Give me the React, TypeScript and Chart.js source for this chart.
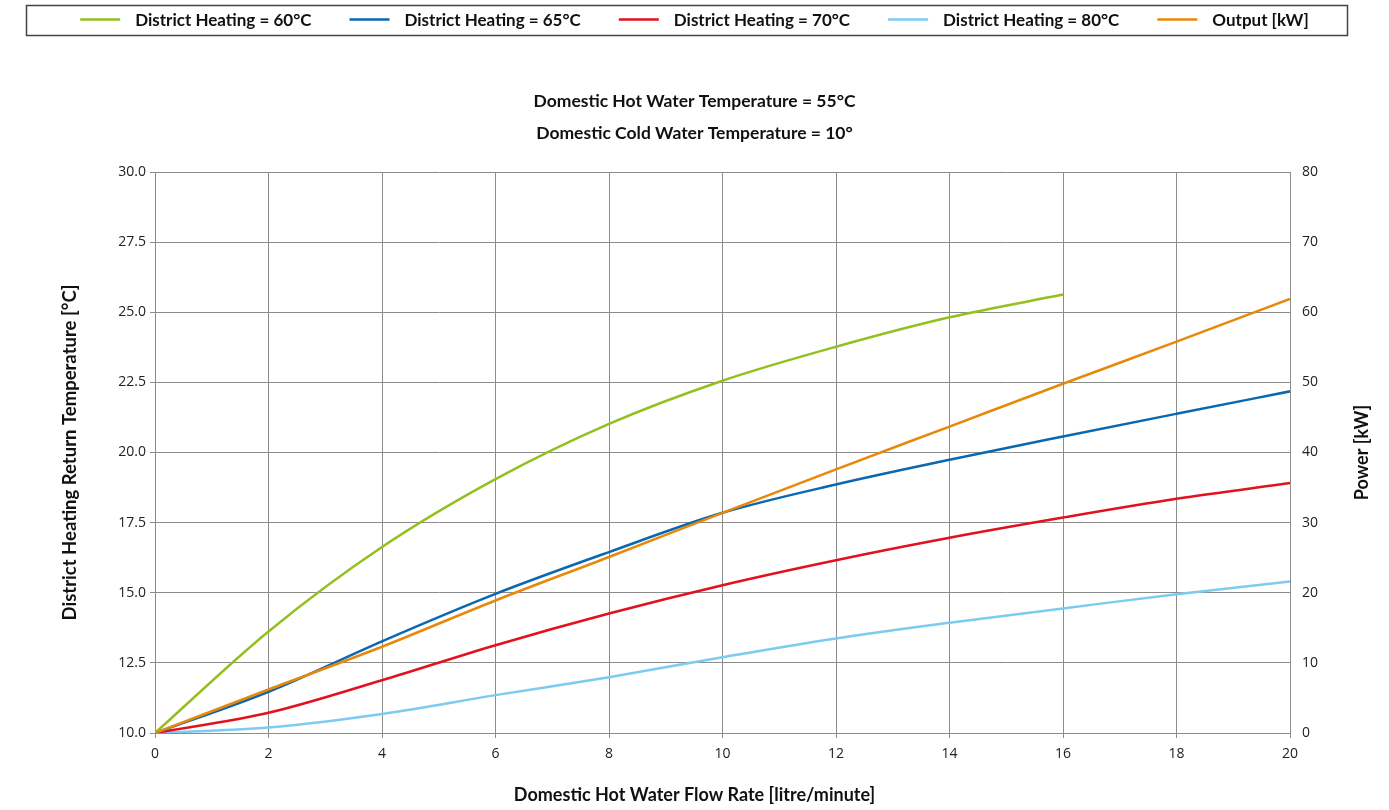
import React, { useEffect, useRef } from "react";
import { Chart, registerables } from "chart.js";

Chart.register(...registerables);

// ---------------- data ----------------
const flowRates = [0, 2, 4, 6, 8, 10, 12, 14, 16, 18, 20];
const dh60 = [10, 13.62, 16.63, 19.05, 21.02, 22.56, 23.77, 24.82, 25.63];
const dh65 = [10, 11.47, 13.27, 14.96, 16.45, 17.85, 18.86, 19.74, 20.57, 21.38, 22.18];
const dh70 = [10, 10.72, 11.88, 13.13, 14.26, 15.27, 16.16, 16.96, 17.68, 18.35, 18.91];
const dh80 = [10, 10.2, 10.68, 11.35, 11.99, 12.7, 13.37, 13.93, 14.44, 14.95, 15.4];
const outputKw = [0, 6.2, 12.3, 18.9, 25.1, 31.4, 37.6, 43.7, 49.8, 55.8, 61.9];

const seriesLabels = [
  "District Heating = 60°C",
  "District Heating = 65°C",
  "District Heating = 70°C",
  "District Heating = 80°C",
  "Output [kW]",
];
const seriesColors = ["#93c01f", "#0a68b0", "#e3101e", "#7ccbf0", "#e8880a"];

const titleLines = [
  "Domestic Hot Water Temperature = 55°C",
  "Domestic Cold Water Temperature = 10°",
];
const xTitle = "Domestic Hot Water Flow Rate [litre/minute]";
const yTitle = "District Heating Return Temperature [°C]";
const y1Title = "Power [kW]";

const TITLE_FONT = "Lato";
const TICK_FONT = "'Open Sans'";

const toPoints = (vals: number[]) => vals.map((v, i) => ({ x: flowRates[i], y: v }));

const decorPlugin = {
  id: "decor",
  afterDraw(chart: any) {
    const ctx = chart.ctx as CanvasRenderingContext2D;
    const W = chart.width;
    const area = chart.chartArea;
    ctx.save();
    // legend box
    ctx.strokeStyle = "#444";
    ctx.lineWidth = 1.5;
    ctx.strokeRect(26.5, 5.5, 1321, 30);
    ctx.font = `bold 17px ${TITLE_FONT}`;
    ctx.textBaseline = "middle";
    ctx.textAlign = "left";
    const lineW = 40;
    const gapText = 15;
    const gapItem = 38;
    const ds = chart.data.datasets;
    const widths = ds.map((d: any) => lineW + gapText + ctx.measureText(d.label).width);
    const total = widths.reduce((a: number, b: number) => a + b, 0) + gapItem * (ds.length - 1);
    let x = W / 2 - total / 2;
    const cy = 19.5;
    ds.forEach((d: any, i: number) => {
      ctx.strokeStyle = d.borderColor;
      ctx.lineWidth = 2.5;
      ctx.beginPath();
      ctx.moveTo(x, cy);
      ctx.lineTo(x + lineW, cy);
      ctx.stroke();
      ctx.fillStyle = "#111";
      ctx.fillText(d.label, x + lineW + gapText, cy + 1);
      x += widths[i] + gapItem;
    });
    // x axis title (centred on canvas)
    ctx.font = `bold 18px ${TITLE_FONT}`;
    ctx.textAlign = "center";
    ctx.fillStyle = "#111";
    ctx.fillText(xTitle, W / 2, 795);
    // right axis title
    ctx.translate(1362, (area.top + area.bottom) / 2);
    ctx.rotate(-Math.PI / 2);
    ctx.fillText(y1Title, 0, 0);
    ctx.restore();
  },
};

export default function App() {
  const ref = useRef<HTMLCanvasElement | null>(null);

  useEffect(() => {
    document.body.style.margin = "0";
    if (!ref.current) return;
    const mk = (i: number, vals: number[], axis = "y") => ({
      label: seriesLabels[i],
      data: toPoints(vals),
      borderColor: seriesColors[i],
      backgroundColor: seriesColors[i],
      borderWidth: 2.5,
      pointRadius: 0,
      fill: false,
      cubicInterpolationMode: "monotone" as const,
      yAxisID: axis,
      order: i === 4 ? 0 : 1,
    });
    const chart = new Chart(ref.current, {
      type: "line",
      data: {
        datasets: [
          mk(0, dh60),
          mk(1, dh65),
          mk(2, dh70),
          mk(3, dh80),
          mk(4, outputKw, "y1"),
        ],
      },
      plugins: [decorPlugin],
      options: {
        responsive: false,
        animation: false,
        events: [],
        layout: { padding: { top: 41, left: 0, right: 0, bottom: 0 } },
        plugins: {
          legend: { display: false },
          tooltip: { enabled: false },
          title: {
            display: true,
            text: titleLines,
            color: "#111",
            font: { family: TITLE_FONT, size: 17.5, weight: "bold", lineHeight: 32 / 17.5 },
            padding: { top: 44, bottom: 23 },
          },
        },
        scales: {
          x: {
            type: "linear",
            min: 0,
            max: 20,
            ticks: {
              stepSize: 2,
              color: "#222",
              font: { family: TICK_FONT, size: 14 },
              padding: 8,
              maxRotation: 0,
            },
            grid: { color: "#8c8c8c", lineWidth: 1, tickLength: 5 },
            border: { color: "#8c8c8c" },
            afterFit: (s: any) => {
              s.height = 77;
            },
          },
          y: {
            type: "linear",
            position: "left",
            min: 10,
            max: 30,
            ticks: {
              stepSize: 2.5,
              color: "#222",
              font: { family: TICK_FONT, size: 14 },
              padding: 4,
              callback: (v: any) => Number(v).toFixed(1),
            },
            grid: { color: "#8c8c8c", lineWidth: 1, tickLength: 5 },
            border: { color: "#8c8c8c" },
            title: {
              display: true,
              text: yTitle,
              color: "#111",
              font: { family: TITLE_FONT, size: 18.5, weight: "bold" },
              padding: { top: 59, bottom: 0 },
            },
            afterFit: (s: any) => {
              s.width = 155;
            },
          },
          y1: {
            type: "linear",
            position: "right",
            min: 0,
            max: 80,
            ticks: {
              stepSize: 10,
              color: "#222",
              font: { family: TICK_FONT, size: 14 },
              padding: 12,
            },
            grid: { display: false, drawTicks: false, drawOnChartArea: false },
            border: { display: true, color: "#8c8c8c" },
            afterFit: (s: any) => {
              s.width = 99;
            },
          },
        },
      },
    });
    return () => chart.destroy();
  }, []);

  return (
    <div style={{ width: 1389, height: 810, background: "#fff" }}>
      <canvas ref={ref} width={1389} height={810} />
    </div>
  );
}
